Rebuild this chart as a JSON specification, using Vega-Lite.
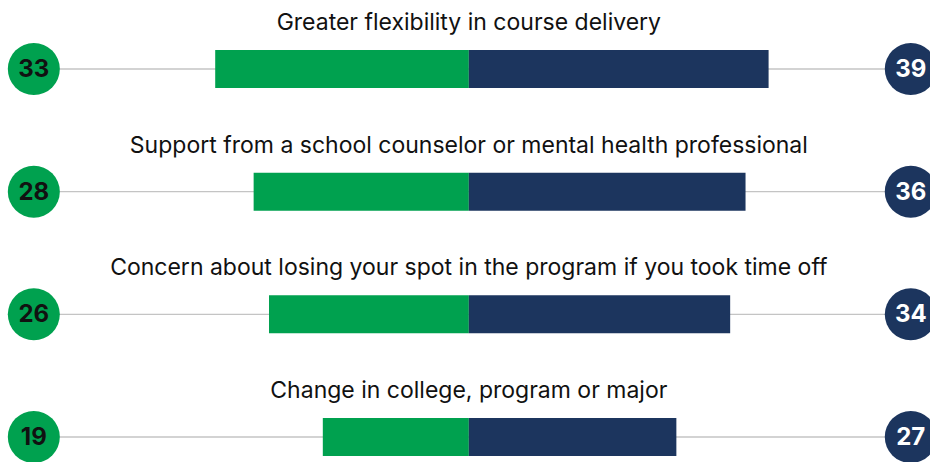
{
  "$schema": "https://vega.github.io/schema/vega-lite/v6.json",
  "width": 930,
  "height": 462,
  "autosize": {"type": "none"},
  "padding": 0,
  "background": "white",
  "config": {"view": {"stroke": null}},
  "data": {"values": [
    {"item": "Greater flexibility in course delivery", "left": 33, "right": 39},
    {"item": "Support from a school counselor or mental health professional", "left": 28, "right": 36},
    {"item": "Concern about losing your spot in the program if you took time off", "left": 26, "right": 34},
    {"item": "Change in college, program or major", "left": 19, "right": 27}
  ]},
  "encoding": {
    "y": {"field": "item", "type": "nominal", "sort": null, "axis": null,
          "scale": {"type": "point", "range": [69, 437], "padding": 0}}
  },
  "layer": [
    {
      "mark": {"type": "rule", "color": "#c4c4c4", "strokeWidth": 1.3},
      "encoding": {
        "x": {"datum": -56.6, "type": "quantitative", "axis": null, "scale": {"domain": [-61, 60], "nice": false, "zero": false}},
        "x2": {"datum": 57.5}
      }
    },
    {
      "mark": {"type": "bar", "color": "#00A14F", "size": 38, "orient": "horizontal"},
      "encoding": {
        "x": {"field": "left", "type": "quantitative", "axis": null, "scale": {"domain": [-60, 61], "reverse": true, "nice": false, "zero": false}},
        "x2": {"datum": 0}
      }
    },
    {
      "mark": {"type": "bar", "color": "#1C355E", "size": 38, "orient": "horizontal"},
      "encoding": {
        "x": {"field": "right", "type": "quantitative", "axis": null, "scale": {"domain": [-61, 60], "nice": false, "zero": false}},
        "x2": {"datum": 0}
      }
    },
    {
      "mark": {"type": "text", "font": "Inter", "fontSize": 23, "color": "#111111", "align": "center", "baseline": "middle", "dy": -46},
      "encoding": {
        "x": {"datum": 0, "type": "quantitative", "axis": null, "scale": {"domain": [-61, 60], "nice": false, "zero": false}},
        "text": {"field": "item"}
      }
    },
    {
      "mark": {"type": "point", "shape": "circle", "filled": true, "opacity": 1, "size": 2704, "color": "#00A14F"},
      "encoding": {
        "x": {"datum": -56.6, "type": "quantitative", "axis": null, "scale": {"domain": [-61, 60], "nice": false, "zero": false}}
      }
    },
    {
      "mark": {"type": "point", "shape": "circle", "filled": true, "opacity": 1, "size": 2704, "color": "#1C355E"},
      "encoding": {
        "x": {"datum": 57.5, "type": "quantitative", "axis": null, "scale": {"domain": [-61, 60], "nice": false, "zero": false}}
      }
    },
    {
      "mark": {"type": "text", "font": "Inter", "fontSize": 24, "fontWeight": "bold", "color": "#111111", "align": "center", "baseline": "middle", "dy": 1},
      "encoding": {
        "x": {"datum": -56.6, "type": "quantitative", "axis": null, "scale": {"domain": [-61, 60], "nice": false, "zero": false}},
        "text": {"field": "left"}
      }
    },
    {
      "mark": {"type": "text", "font": "Inter", "fontSize": 24, "fontWeight": "bold", "color": "#ffffff", "align": "center", "baseline": "middle", "dy": 1},
      "encoding": {
        "x": {"datum": 57.5, "type": "quantitative", "axis": null, "scale": {"domain": [-61, 60], "nice": false, "zero": false}},
        "text": {"field": "right"}
      }
    }
  ],
  "resolve": {"scale": {"x": "independent"}}
}
